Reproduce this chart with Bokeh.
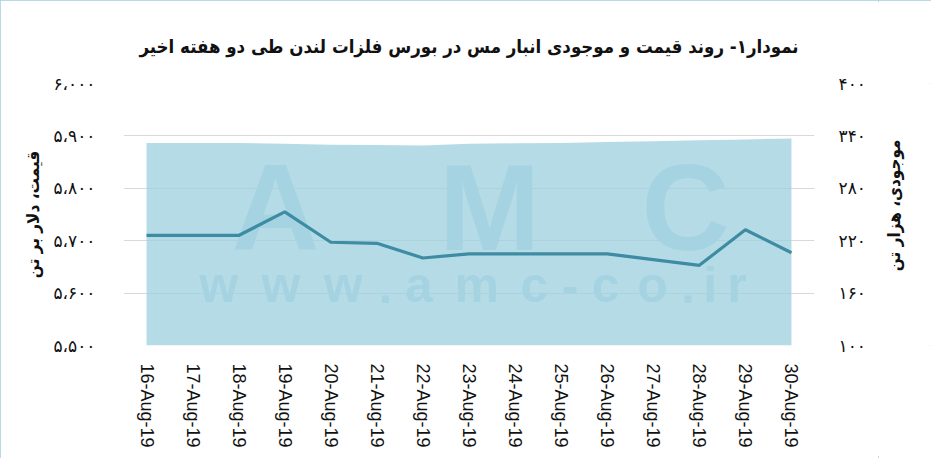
import math
from bokeh.plotting import figure
from bokeh.layouts import row
from bokeh.models import Range1d, LinearAxis, FixedTicker, ColumnDataSource
from bokeh.core.properties import value
from bokeh.embed import file_html
from bokeh.resources import INLINE

# ---------------- data ----------------
dates = ["16-Aug-19", "17-Aug-19", "18-Aug-19", "19-Aug-19", "20-Aug-19",
         "21-Aug-19", "22-Aug-19", "23-Aug-19", "24-Aug-19", "25-Aug-19",
         "26-Aug-19", "27-Aug-19", "28-Aug-19", "29-Aug-19", "30-Aug-19"]
price = [5710, 5710, 5710, 5755, 5697, 5695, 5667, 5675, 5675, 5675,
         5675, 5664, 5653, 5721, 5677]          # USD per tonne (left axis)
stock = [332, 332, 332, 331, 330, 329.5, 329, 331, 331.5, 332,
         333, 334, 335, 336, 337]               # thousand tonnes (right axis)

left_ticks = [5500, 5600, 5700, 5800, 5900, 6000]
left_labels = ["۵،۵۰۰", "۵،۶۰۰", "۵،۷۰۰", "۵،۸۰۰", "۵،۹۰۰", "۶،۰۰۰"]
right_ticks = [100, 160, 220, 280, 340, 400]
right_labels = ["۱۰۰", "۱۶۰", "۲۲۰", "۲۸۰", "۳۴۰", "۴۰۰"]

title_text = "نمودار۱- روند قیمت و موجودی انبار مس در بورس فلزات لندن طی دو هفته اخیر"
left_title = "قیمت، دلار بر تن"
right_title = "موجودی، هزار تن"

idx = list(range(len(dates)))
src = ColumnDataSource(dict(x=idx, price=price, stock=stock, base=[right_ticks[0]] * len(idx)))

W_TOTAL, H = 931, 458
SIDE_W = 53
W = W_TOTAL - SIDE_W
FL, FR, FT, FB = 123, 64, 83, 113

p = figure(width=W, height=H, output_backend="svg", toolbar_location=None,
           x_range=Range1d(-0.5, len(dates) - 0.5),
           y_range=Range1d(left_ticks[0], left_ticks[-1]),
           min_border_left=FL, min_border_right=FR, min_border_top=FT, min_border_bottom=FB,
           y_axis_location=None)
p.extra_y_ranges = {"inv": Range1d(right_ticks[0], right_ticks[-1])}
p.background_fill_color = "white"
p.border_fill_color = "white"
p.outline_line_color = None

# title (centred over the whole picture: shift by half the side strip)
p.title.text = title_text
p.title.align = "center"
p.title.offset = SIDE_W / 2
p.title.text_font = "DejaVu Sans Condensed"
p.title.text_font_size = "18.5px"
p.title.text_font_style = "bold"
p.title.text_color = "#111111"
p.title.standoff = 54

# grid
p.xgrid.visible = False
p.ygrid.ticker = FixedTicker(ticks=left_ticks)
p.ygrid.grid_line_color = "#d9d9d9"
p.ygrid.grid_line_width = 1

# x axis
xa = p.xaxis[0]
xa.ticker = FixedTicker(ticks=idx)
xa.major_label_overrides = {i: d for i, d in zip(idx, dates)}
xa.major_label_orientation = "vertical"
xa.major_label_text_font = "Liberation Sans"
xa.major_label_text_font_size = "18px"
xa.major_label_text_color = "#111111"
xa.major_label_standoff = 12
xa.axis_line_color = None
xa.major_tick_line_color = None
xa.minor_tick_line_color = None

def style_y(ax, ticks, labels, standoff):
    ax.ticker = FixedTicker(ticks=ticks)
    ax.major_label_overrides = {t: l for t, l in zip(ticks, labels)}
    ax.major_label_text_font = "DejaVu Sans"
    ax.major_label_text_font_size = "17px"
    ax.major_label_text_color = "#111111"
    ax.major_label_standoff = standoff
    ax.axis_line_color = None
    ax.major_tick_line_color = None
    ax.minor_tick_line_color = None

ly = LinearAxis()
style_y(ly, left_ticks, left_labels, 22)
ly.axis_label = left_title
ly.axis_label_text_font = "DejaVu Sans Condensed"
ly.axis_label_text_font_size = "17px"
ly.axis_label_text_font_style = "bold"
ly.axis_label_text_color = "#111111"
ly.axis_label_standoff = 7
p.add_layout(ly, "left")
ry = LinearAxis(y_range_name="inv")
style_y(ry, right_ticks, right_labels, 18)
p.add_layout(ry, "right")

# inventory area (right axis)
p.varea(x="x", y1="base", y2="stock", source=src, y_range_name="inv",
        fill_color="#9cd0de", fill_alpha=0.75)

# pixel helpers for decorations
x0, x1 = -0.5, len(dates) - 0.5
FW, FH = W - FL - FR, H - FT - FB
def px2x(px):
    return x0 + (px - FL) / FW * (x1 - x0)
def py2y(py):
    return left_ticks[0] + (FT + FH - py) / FH * (left_ticks[-1] - left_ticks[0])

# watermark (decoration)
wm_color = "#a6d3e1"
p.text(x=[px2x(c) for c in (275, 489, 685)], y=[py2y(207)] * 3,
       text=["A", "M", "C"], text_font=value("Liberation Sans"),
       text_font_size="122px", text_font_style="bold", text_align="center",
       text_baseline="alphabetic", text_color=wm_color)

chars = list("www.amc-co.ir")
adv = {"w": .778, ".": .278, "a": .556, "m": .889, "c": .556, "-": .333,
       "o": .611, "i": .278, "r": .389}
tot = sum(adv[c] for c in chars)
start, span = 187, 565
pos, cx = [], start
for c in chars:
    w = adv[c] / tot * span
    pos.append(cx + w / 2)
    cx += w
p.text(x=[px2x(v) for v in pos], y=[py2y(284.5)] * len(chars), text=chars,
       text_font=value("Liberation Sans"), text_font_size="50px",
       text_font_style="bold", text_align="center", text_baseline="alphabetic",
       text_color=wm_color)

# price line (left axis)
p.line(x="x", y="price", source=src, line_color="#3e8ca3", line_width=3.2)

# narrow strip on the right carrying the right-axis title, rotated like the left one
s = figure(width=SIDE_W, height=H, output_backend="svg", toolbar_location=None,
           x_range=Range1d(0, SIDE_W), y_range=Range1d(0, H),
           min_border=0, x_axis_location=None, y_axis_location=None)
s.grid.visible = False
s.outline_line_color = None
s.background_fill_color = "white"
s.border_fill_color = "white"
s.text(x=[893 - W], y=[H - 213], text=[right_title], angle=math.pi / 2,
       text_align="center", text_baseline="middle",
       text_font=value("DejaVu Sans Condensed"), text_font_size="17px",
       text_font_style="bold", text_color="#111111")

layout = row(p, s, spacing=0)
layout.styles = {"outline": "2px solid #9dd0e0", "outline-offset": "-2px"}

open("out.html", "w").write(file_html(layout, INLINE))
